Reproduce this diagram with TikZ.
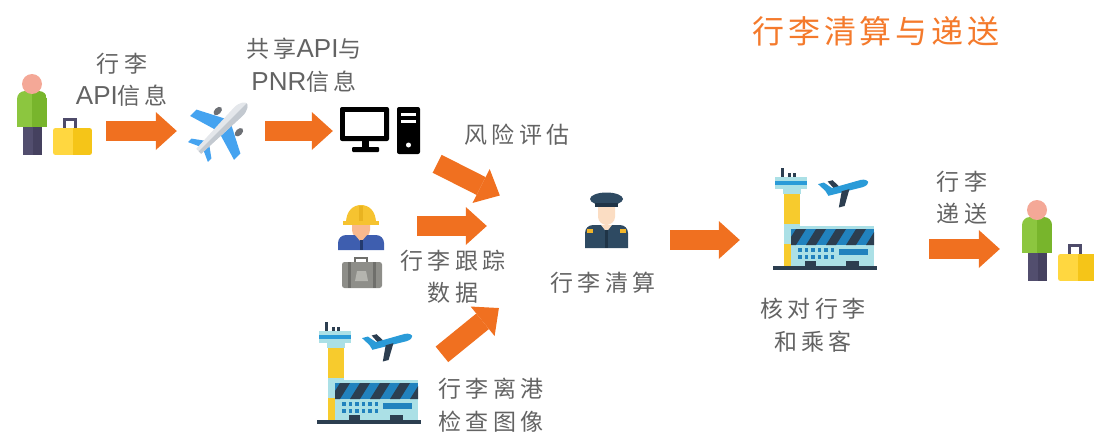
\documentclass[tikz,border=0pt]{standalone}
\usepackage{fontspec}
\setmainfont{Noto Sans CJK SC}
\newfontfamily\capfont[LetterSpace=18]{Noto Sans CJK SC}
\newfontfamily\headfont[LetterSpace=12]{Noto Sans CJK SC}
\newfontfamily\latinfont[Scale=1.13]{Liberation Sans}
\usetikzlibrary{arrows.meta, positioning, calc}

\definecolor{arroworange}{HTML}{F07020}
\definecolor{headorange}{HTML}{F47A2C}
\definecolor{captiongray}{HTML}{636363}
\definecolor{skinpink}{HTML}{F4A897}
\definecolor{shirtgreen}{HTML}{8CC63F}
\definecolor{shirtdark}{HTML}{78B52C}
\definecolor{trouser}{HTML}{524E6E}
\definecolor{trouserdark}{HTML}{45415F}
\definecolor{caseyellow}{HTML}{FFD740}
\definecolor{casegold}{HTML}{F5C518}
\definecolor{casehandle}{HTML}{4E4B6A}
\definecolor{wingblue}{HTML}{45A3F0}
\definecolor{hull}{HTML}{E4E7EB}
\definecolor{hullshade}{HTML}{C3C9D0}
\definecolor{engine}{HTML}{6D7075}
\definecolor{hatyellow}{HTML}{F6C330}
\definecolor{hatshade}{HTML}{E9B320}
\definecolor{faceskin}{HTML}{F9B98E}
\definecolor{workblue}{HTML}{3E5EAF}
\definecolor{worknavy}{HTML}{233A6E}
\definecolor{baggray}{HTML}{8E8E89}
\definecolor{bagdark}{HTML}{6F6F6B}
\definecolor{baglight}{HTML}{B5B5AF}
\definecolor{glass}{HTML}{ABE0E6}
\definecolor{skyblue}{HTML}{2A9BD8}
\definecolor{towergold}{HTML}{F7CB2D}
\definecolor{slate}{HTML}{2C3E50}
\definecolor{termblue}{HTML}{2182BE}
\definecolor{copnavy}{HTML}{2E4A62}
\definecolor{copdark}{HTML}{1F3447}
\definecolor{copskin}{HTML}{FBDDC3}
\definecolor{copgold}{HTML}{F2B52A}

\newcommand{\Lat}[1]{{\latinfont #1}}

\tikzset{
    flow/.style={draw=arroworange, line width=20pt,
        -{Triangle[width=38pt, length=21pt, line width=0pt]}},
    icon/.style={inner sep=0pt, draw=none},
    caption/.style={text=captiongray, align=center,
        font={\capfont\fontsize{23}{32.5}\selectfont}},
    heading/.style={text=headorange, font={\headfont\fontsize{32}{36}\selectfont}},
    traveller/.pic={
        % case handle, then the case in two shades
        \draw[casehandle, line width=3pt] (9.5,15) -- (9.5,4.5) -- (20.5,4.5) -- (20.5,15);
        \begin{scope}
            \clip[rounded corners=2.5pt] (-2,13) rectangle (37,40);
            \fill[caseyellow] (-2,13) rectangle (17.5,40);
            \fill[casegold] (17.5,13) rectangle (37,40);
        \end{scope}
        % legs
        \fill[trouser] (-32,11) rectangle (-22.5,40);
        \fill[trouserdark] (-22.5,11) rectangle (-13,40);
        % shirt
        \begin{scope}
            \clip (-38,12) [rounded corners=8pt] -- (-38,-24) -- (-8,-24) [sharp corners] -- (-8,12) -- cycle;
            \fill[shirtgreen] (-38,-24) rectangle (-23,12);
            \fill[shirtdark] (-23,-24) rectangle (-8,12);
        \end{scope}
        \fill[skinpink] (-23,-31) circle (10);
    },
    jet/.pic={
        \begin{scope}[shift={(2,-3)}, rotate=45]
            % engines
            \fill[engine] (9,-15) ellipse (5 and 3.2);
            \fill[engine] (9,15) ellipse (5 and 3.2);
            % wings and tailplane
            \fill[wingblue] (9,-4) -- (-6,-4) -- (-14,-31) -- (-5,-31) -- cycle;
            \fill[wingblue] (9,4) -- (-6,4) -- (-14,31) -- (-5,31) -- cycle;
            \fill[wingblue] (-21,-3) -- (-29,-3) -- (-34,-14) -- (-29,-14) -- cycle;
            \fill[wingblue] (-21,3) -- (-29,3) -- (-34,14) -- (-29,14) -- cycle;
            % fuselage
            \fill[hull] (-33,-3.5) -- (23,-6) .. controls (31,-6) and (35,-2) .. (35,0)
                .. controls (35,2) and (31,6) .. (23,6) -- (-33,3.5) -- cycle;
            \fill[hullshade] (-33,0) -- (35,0) .. controls (35,2) and (31,6) .. (23,6) -- (-33,3.5) -- cycle;
        \end{scope}
    },
    computer/.pic={
        % monitor
        \fill[black, rounded corners=2pt] (-40,-24) rectangle (9,10);
        \fill[white] (-35,-19) rectangle (4,5);
        \fill[black] (-18,10) rectangle (-11,17);
        \fill[black, rounded corners=1pt] (-28,16) rectangle (-1,21);
        % tower
        \fill[black, rounded corners=2pt] (17,-24) rectangle (40,23);
        \fill[white] (21,-18) rectangle (36,-15.5);
        \fill[white] (21,-11) rectangle (36,-8.5);
        \fill[white] (28.5,14) circle (2.5);
    },
    worker/.pic={
        % face
        \fill[faceskin] (-9,-24) -- (9,-24) -- (9,-17) .. controls (9,-11) and (4,-9) .. (0,-9)
            .. controls (-4,-9) and (-9,-11) .. (-9,-17) -- cycle;
        % shirt
        \fill[workblue] (-23,3) [rounded corners=8pt] -- (-23,-12) -- (23,-12) [sharp corners] -- (23,3) -- cycle;
        \fill[faceskin] (-6,-12) -- (6,-12) -- (0,-5) -- cycle;
        \fill[worknavy] (-1.5,-7) rectangle (1.5,3);
        % hard hat
        \fill[hatyellow] (-15,-24) .. controls (-15,-36) and (-8,-42) .. (0,-42)
            .. controls (8,-42) and (15,-36) .. (15,-24) -- cycle;
        \fill[hatshade] (-2,-41.5) rectangle (2,-26);
        \fill[hatyellow] (-18,-26) rectangle (18,-22);
        % case
        \draw[bagdark, line width=2.5pt] (-6,16) -- (-6,11) -- (6,11) -- (6,16);
        \fill[baggray, rounded corners=2.5pt] (-19,15) rectangle (21,41);
        \fill[bagdark] (-13,15) rectangle (-10,41);
        \fill[bagdark] (12,15) rectangle (15,41);
        \fill[baglight] (-4,24) -- (5,24) -- (7,34) -- (-6,34) -- cycle;
    },
    airport/.pic={
        % control tower
        \fill[towergold] (-40,-24) rectangle (-24,48);
        \fill[glass] (-41,-29) rectangle (-23,-24);
        \fill[glass] (-49,-41) rectangle (-17,-29);
        \fill[skyblue] (-49,-37) rectangle (-17,-33);
        \fill[slate] (-43,-50) rectangle (-40,-41);
        \fill[slate] (-36,-45) rectangle (-33,-41);
        \fill[slate] (-31,-45) rectangle (-28,-41);
        % terminal building
        \fill[glass] (-40,6) rectangle (-24,26);
        \fill[glass] (-33,8) rectangle (50,48);
        \begin{scope}
            \clip (-33,11) rectangle (50,27);
            \fill[termblue] (-33,11) rectangle (50,27);
            \foreach \i in {0,...,4}
                \fill[slate] ({-38+\i*20},27) -- ({-28+\i*20},27) -- ({-18+\i*20},11) -- ({-28+\i*20},11) -- cycle;
        \end{scope}
        \foreach \c in {0,...,5}
            \foreach \r in {0,1}
                \fill[termblue] ({-26+\c*6.5},{30+\r*7}) rectangle +(3.5,3.5);
        \fill[termblue] (15,31) rectangle (44,37);
        \fill[slate] (-19,43) rectangle (-8,48);
        \fill[slate] (22,43) rectangle (35,48);
        \fill[slate] (-51,48) rectangle (53,52);
        % departing plane
        \begin{scope}[shift={(22,-30)}, rotate=15]
            \fill[slate] (-6,-3) -- (-12,-3) -- (-16,-11) -- (-11,-11) -- cycle;
            \fill[skyblue] (-21,-3) -- (-26,-11) -- (-20,-11) -- (-13,-3) -- cycle;
            \fill[skyblue] (-21,-3.5) -- (16,-4) .. controls (21,-4) and (23,-1) .. (23,0)
                .. controls (23,1) and (21,3.5) .. (16,3.5) -- (-19,3) -- cycle;
            \fill[slate] (3,2) -- (-5,2) -- (-12,17) -- (-6,17) -- cycle;
        \end{scope}
    },
    officer/.pic={
        % face
        \fill[copskin] (-8,-17) -- (9,-17) -- (9,-4) .. controls (9,1) and (4,4) .. (0.5,4)
            .. controls (-3,4) and (-8,1) .. (-8,-4) -- cycle;
        % uniform
        \fill[copnavy] (-21,27) [rounded corners=8pt] -- (-21,4) -- (22,4) [sharp corners] -- (22,27) -- cycle;
        \fill[copskin] (-5,4) -- (6,4) -- (0.5,11) -- cycle;
        \fill[copdark] (-1,9) rectangle (2,27);
        \fill[copgold] (-19,8) rectangle (-13,12);
        \fill[copgold] (14,8) rectangle (20,12);
        % cap
        \fill[copnavy] (0.5,-22) ellipse (16.5 and 6.5);
        \fill[copdark] (-11,-18) rectangle (12,-14);
    },
}

\begin{document}
\begin{tikzpicture}[x=1pt, y=-1pt]
    \useasboundingbox (0,0) rectangle (1094,436);

    \node[heading] (title) at (876,31) {行李清算与递送};

    % icons, one box each
    \node[icon, minimum width=76pt, minimum height=82pt] (pax1) at (55,115) {};
    \node[icon, minimum width=60pt, minimum height=60pt] (jet) at (220,131) {};
    \node[icon, minimum width=80pt, minimum height=48pt] (pc) at (380,131) {};
    \node[icon, minimum width=46pt, minimum height=84pt] (worker) at (361,247) {};
    \node[icon, minimum width=104pt, minimum height=104pt] (port1) at (368,372) {};
    \node[icon, minimum width=44pt, minimum height=56pt] (officer) at (606,221) {};
    \node[icon, minimum width=104pt, minimum height=104pt] (port2) at (824,218) {};
    \node[icon, minimum width=76pt, minimum height=82pt] (pax2) at (1060,241) {};

    \pic at (pax1) {traveller};
    \pic at (jet) {jet};
    \pic at (pc) {computer};
    \pic at (worker) {worker};
    \pic at (port1) {airport};
    \pic at (officer) {officer};
    \pic at (port2) {airport};
    \pic at (pax2) {traveller};

    % captions
    \node[caption] (apiinfo) at (122,80) {行李\\\Lat{API}信息};
    \node[caption] (share) at (304,65) {共享\Lat{API}与\\\Lat{PNR}信息};
    \node[caption] (risk) at (517,135) {风险评估};
    \node[caption] (track) at (453,277) {行李跟踪\\数据};
    \node[caption] (scan) at (491,405) {行李离港\\检查图像};
    \node[caption] (clear) at (603,283) {行李清算};
    \node[caption] (check) at (813,325) {核对行李\\和乘客};
    \node[caption] (deliver) at (962,198) {行李\\递送};

    % block arrows
    \draw[flow, shorten <=13pt, shorten >=13pt] (pax1.east |- jet.west) -- (jet.west);
    \draw[flow, shorten <=15pt, shorten >=7pt] (jet.east) -- (pc.west |- jet.east);
    \draw[flow, shorten <=19pt, shorten >=119pt] (pc.south east) -- (officer.south);
    \draw[flow, shorten <=33pt, shorten >=97pt] ($(worker.east |- officer.west)+(0,5)$) -- ($(officer.west)+(0,5)$);
    \draw[flow, shorten <=28pt, shorten >=138pt] (port1.east) -- (officer.center);
    \draw[flow, shorten <=42pt, shorten >=32pt] ($(officer.east |- port2.west)+(0,22)$) -- ($(port2.west)+(0,22)$);
    \draw[flow, shorten <=53pt, shorten >=22pt] ($(port2.east)+(0,31)$) -- ($(pax2.west |- port2.east)+(0,31)$);
\end{tikzpicture}
\end{document}
